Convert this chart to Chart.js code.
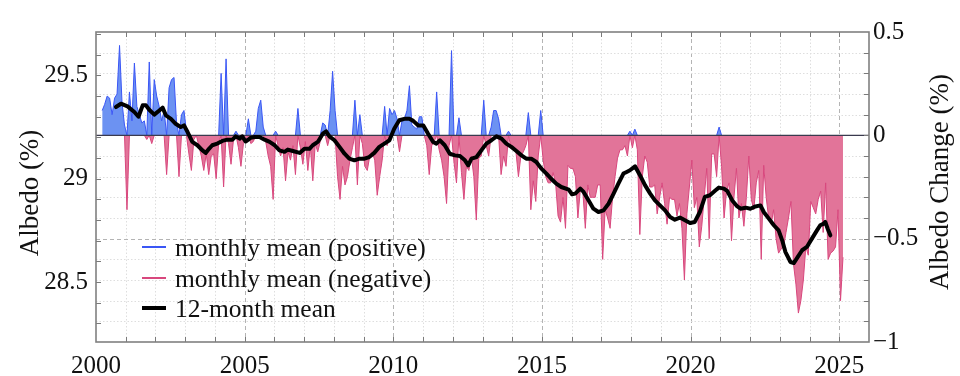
<!DOCTYPE html>
<html>
<head>
<meta charset="utf-8">
<script src="https://cdn.jsdelivr.net/npm/chart.js@4/dist/chart.umd.min.js"></script>
<style>
  html, body { margin: 0; padding: 0; background: #ffffff; }
  #wrap { width: 960px; height: 376px; position: relative; }
</style>
</head>
<body>
<div id="wrap"><canvas id="c" width="960" height="376"></canvas></div>
<script>
// ---------------- DATA ----------------
// Monthly albedo change (%) relative to the reference level, Mar 2000 .. Feb 2025
const firstMonthIndex = 2; // months since Jan 2000 (Mar 2000)
const monthlyChange = [
  // 2000 (Mar-Dec)
  0.12, 0.15, 0.19, 0.18, 0.10, 0.18, 0.20, 0.435, 0.16, 0.05,
  // 2001
  -0.36, 0.21, 0.07, 0.35, 0.14, 0.10, 0.06, 0.07, -0.02, 0.355, -0.04, 0.27,
  // 2002
  0.19, 0.14, 0.07, 0.12, -0.19, 0.23, 0.27, 0.28, 0.06, -0.20, 0.10, 0.12,
  // 2003
  0.02, -0.09, -0.17, -0.02, 0.00, -0.05, -0.10, -0.17, -0.09, -0.19, -0.10, -0.09,
  // 2004
  -0.21, -0.04, 0.30, -0.25, 0.37, -0.04, -0.14, -0.02, 0.02, -0.06, -0.15, -0.04,
  // 2005
  -0.02, 0.08, -0.04, -0.03, 0.02, 0.13, 0.17, 0.04, -0.03, -0.10, -0.15, -0.31,
  // 2006
  0.02, -0.05, -0.10, -0.06, -0.22, -0.08, -0.12, -0.05, -0.19, 0.13, -0.06, -0.14,
  // 2007
  -0.03, -0.17, -0.05, -0.22, -0.04, -0.08, -0.03, 0.06, 0.05, -0.05, 0.12, 0.31,
  // 2008
  0.12, -0.20, -0.31, -0.15, -0.24, -0.20, -0.12, -0.06, 0.17, -0.24, 0.10, -0.04,
  // 2009
  -0.15, -0.17, -0.10, -0.08, -0.12, -0.29, -0.20, -0.12, 0.14, -0.05, 0.13, 0.10,
  // 2010
  0.12, 0.08, -0.08, 0.07, 0.08, 0.12, 0.24, 0.05, 0.04, 0.03, 0.09, 0.09,
  // 2011
  0.00, -0.05, -0.19, -0.05, -0.03, 0.21, -0.07, -0.12, -0.20, -0.33, -0.05, 0.41,
  // 2012
  -0.13, -0.23, 0.085, -0.18, -0.31, -0.15, -0.17, -0.10, -0.20, -0.41, -0.11, -0.10,
  // 2013
  0.17, -0.05, -0.10, 0.04, 0.12, 0.12, 0.08, -0.19, -0.10, -0.15, 0.02, -0.06,
  // 2014
  -0.06, -0.08, -0.20, -0.10, -0.08, -0.05, 0.11, -0.36, -0.22, -0.32, -0.10, 0.12,
  // 2015
  -0.12, -0.20, -0.23, -0.23, -0.18, -0.23, -0.39, -0.42, -0.30, -0.45, -0.145, -0.16,
  // 2016
  -0.16, -0.20, -0.40, -0.26, -0.27, -0.45, -0.24, -0.30, -0.30, -0.30, -0.24, -0.24,
  // 2017
  -0.60, -0.36, -0.40, -0.45, -0.30, -0.20, -0.11, -0.07, -0.07, -0.05, -0.10, 0.02,
  // 2018
  -0.06, 0.03, -0.07, -0.48, -0.20, -0.10, -0.13, -0.25, -0.25, -0.24, -0.38, -0.30,
  // 2019
  -0.23, -0.33, -0.43, -0.30, -0.31, -0.31, -0.39, -0.33, -0.45, -0.70, -0.38, -0.25,
  // 2020
  -0.12, -0.35, -0.30, -0.54, -0.44, -0.30, -0.16, -0.50, -0.09, -0.09, -0.20, 0.04,
  // 2021
  -0.15, -0.40, -0.27, -0.23, -0.51, -0.30, -0.16, -0.40, -0.33, -0.44, -0.30, -0.10,
  // 2022
  -0.31, -0.36, -0.23, -0.17, -0.60, -0.145, -0.30, -0.40, -0.43, -0.36, -0.50, -0.57,
  // 2023
  -0.55, -0.54, -0.47, -0.40, -0.32, -0.62, -0.72, -0.86, -0.80, -0.70, -0.54, -0.58,
  // 2024
  -0.32, -0.35, -0.38, -0.31, -0.27, -0.47, -0.23, -0.60, -0.57, -0.56, -0.54, -0.36,
  // 2025 (Jan-Feb)
  -0.80, -0.59
];

// 12-month running mean (change, %)
const meanYears = [
  2000.67, 2000.84, 2001.06, 2001.29, 2001.43, 2001.57, 2001.68, 2001.79, 2001.96, 2002.13,
  2002.24, 2002.35, 2002.52, 2002.68, 2002.85, 2002.96, 2003.08, 2003.24, 2003.41, 2003.58,
  2003.69, 2003.80, 2003.91, 2004.08, 2004.25, 2004.42, 2004.59, 2004.70, 2004.83, 2004.92,
  2005.03, 2005.20, 2005.34, 2005.50, 2005.67, 2005.84, 2006.01, 2006.17, 2006.34, 2006.45,
  2006.62, 2006.85, 2007.01, 2007.18, 2007.29, 2007.46, 2007.63, 2007.74, 2007.85, 2008.02,
  2008.19, 2008.36, 2008.52, 2008.69, 2008.86, 2009.03, 2009.19, 2009.36, 2009.53, 2009.70,
  2009.87, 2010.03, 2010.20, 2010.37, 2010.54, 2010.67, 2010.84, 2011.01, 2011.17, 2011.34,
  2011.45, 2011.57, 2011.73, 2011.90, 2012.07, 2012.24, 2012.41, 2012.52, 2012.63, 2012.80,
  2012.96, 2013.13, 2013.30, 2013.47, 2013.64, 2013.80, 2013.97, 2014.14, 2014.31, 2014.47,
  2014.64, 2014.81, 2014.98, 2015.15, 2015.31, 2015.48, 2015.65, 2015.90, 2016.01, 2016.12,
  2016.29, 2016.40, 2016.57, 2016.73, 2016.90, 2017.07, 2017.24, 2017.41, 2017.57, 2017.74,
  2017.85, 2017.96, 2018.13, 2018.30, 2018.47, 2018.64, 2018.80, 2018.97, 2019.14, 2019.31,
  2019.47, 2019.64, 2019.81, 2019.98, 2020.14, 2020.31, 2020.48, 2020.65, 2020.84, 2020.95,
  2021.12, 2021.23, 2021.40, 2021.57, 2021.68, 2021.85, 2022.01, 2022.18, 2022.35, 2022.46,
  2022.63, 2022.80, 2022.96, 2023.08, 2023.19, 2023.36, 2023.47, 2023.60, 2023.75, 2023.91,
  2024.08, 2024.25, 2024.36, 2024.48, 2024.53, 2024.61, 2024.70
];
const meanValues = [
  0.137, 0.153, 0.140, 0.113, 0.090, 0.145, 0.145, 0.124, 0.100, 0.120,
  0.134, 0.097, 0.080, 0.056, 0.040, 0.048, 0.016, -0.032, -0.048, -0.073,
  -0.085, -0.065, -0.048, -0.040, -0.027, -0.021, -0.021, -0.005, -0.016, -0.005,
  -0.030, -0.012, -0.008, -0.008, -0.021, -0.032, -0.048, -0.073, -0.080, -0.069,
  -0.076, -0.085, -0.065, -0.065, -0.048, -0.032, 0.008, 0.019, -0.005, -0.024,
  -0.056, -0.089, -0.113, -0.121, -0.113, -0.113, -0.105, -0.085, -0.056, -0.040,
  -0.024, 0.032, 0.073, 0.080, 0.080, 0.070, 0.048, 0.048, 0.008, -0.032,
  -0.040, -0.024, -0.048, -0.089, -0.097, -0.100, -0.121, -0.145, -0.113, -0.105,
  -0.073, -0.040, -0.024, -0.005, -0.016, -0.040, -0.056, -0.076, -0.097, -0.113,
  -0.113, -0.129, -0.161, -0.185, -0.210, -0.234, -0.250, -0.263, -0.285, -0.282,
  -0.258, -0.274, -0.315, -0.355, -0.371, -0.363, -0.331, -0.282, -0.234, -0.185,
  -0.177, -0.169, -0.150, -0.194, -0.242, -0.282, -0.315, -0.339, -0.363, -0.395,
  -0.408, -0.398, -0.411, -0.424, -0.419, -0.371, -0.298, -0.290, -0.266, -0.253,
  -0.258, -0.269, -0.315, -0.344, -0.355, -0.350, -0.355, -0.344, -0.339, -0.371,
  -0.403, -0.435, -0.460, -0.508, -0.565, -0.613, -0.618, -0.589, -0.556, -0.540,
  -0.500, -0.460, -0.435, -0.427, -0.419, -0.452, -0.484
];

// Axis settings / labels
const baseAlbedo = 29.21;          // albedo (%) corresponding to zero change
const albedoTicks = [28.5, 29, 29.5];
const changeLabelTicks = [0.5, 0, -0.5, -1];
const yearLabels = [2000, 2005, 2010, 2015, 2020, 2025];
const seriesLabels = ['monthly mean (positive)', 'monthly mean (negative)', '12-month mean'];
const leftTitle = 'Albedo (%)';
const rightTitle = 'Albedo Change (%)';

// ---------------- BUILD ----------------
const FONT = "'Liberation Serif', 'Times New Roman', serif";
const BLUE_LINE = '#3a56f5';
const BLUE_FILL = 'rgba(108,146,242,1)';
const PINK_LINE = '#d8477d';
const PINK_FILL = 'rgba(226,116,153,1)';

const monthYear = i => 2000 + (firstMonthIndex + i + 0.5) / 12;
const posData = monthlyChange.map((v, i) => ({ x: monthYear(i), y: Math.max(v, 0) }));
const negData = monthlyChange.map((v, i) => ({ x: monthYear(i), y: Math.min(v, 0) }));
const meanData = meanYears.map((x, i) => ({ x, y: meanValues[i] }));

const hideZero = color => ctx =>
  (ctx.p0.parsed.y === 0 && ctx.p1.parsed.y === 0) ? 'rgba(0,0,0,0)' : color;

const fmtNum = v => {
  const r = Math.round(v * 10) / 10;
  return String(r).replace('-', '\u2212');
};

const gridPlugin = {
  id: 'gridPlugin',
  beforeDatasetsDraw(chart) {
    const { ctx, chartArea: a, scales } = chart;
    const xs = scales.x, ys = scales.y2;
    ctx.save();
    ctx.lineWidth = 1;
    for (let yr = 2001; yr <= 2025; yr++) {
      const px = Math.round(xs.getPixelForValue(yr)) + 0.5;
      const major = yr % 5 === 0;
      ctx.strokeStyle = major ? '#b4b4b4' : '#dedede';
      ctx.setLineDash(major ? [4, 3] : [1.5, 2]);
      ctx.beginPath(); ctx.moveTo(px, a.top); ctx.lineTo(px, a.bottom); ctx.stroke();
    }
    for (let k = -9; k <= 4; k++) {
      const v = k / 10;
      if (k === 0) continue;
      const py = Math.round(ys.getPixelForValue(v)) + 0.5;
      const major = k === -5;
      ctx.strokeStyle = major ? '#b4b4b4' : '#dedede';
      ctx.setLineDash(major ? [4, 3] : [1.5, 2]);
      ctx.beginPath(); ctx.moveTo(a.left, py); ctx.lineTo(a.right, py); ctx.stroke();
    }
    ctx.restore();
  },
  afterDatasetsDraw(chart) {
    const { ctx, chartArea: a, scales } = chart;
    const xs = scales.x, ys = scales.y2, yl = scales.y;
    ctx.save();
    ctx.strokeStyle = '#7a7a7a';
    ctx.lineWidth = 1;
    ctx.setLineDash([]);
    const L = 5;
    for (let yr = 2001; yr <= 2025; yr++) {
      const px = Math.round(xs.getPixelForValue(yr)) + 0.5;
      ctx.beginPath();
      ctx.moveTo(px, a.top); ctx.lineTo(px, a.top + L);
      ctx.moveTo(px, a.bottom); ctx.lineTo(px, a.bottom - L);
      ctx.stroke();
    }
    for (let k = -9; k <= 4; k++) {
      const py = Math.round(ys.getPixelForValue(k / 10)) + 0.5;
      ctx.beginPath(); ctx.moveTo(a.right, py); ctx.lineTo(a.right - L, py); ctx.stroke();
    }
    for (let k = 283; k <= 297; k++) {
      const py = Math.round(yl.getPixelForValue(k / 10)) + 0.5;
      if (py <= a.top + 1 || py >= a.bottom - 1) continue;
      ctx.beginPath(); ctx.moveTo(a.left, py); ctx.lineTo(a.left + L, py); ctx.stroke();
    }
    ctx.strokeStyle = '#808080';
    ctx.lineWidth = 1.6;
    ctx.strokeRect(a.left, a.top, a.right - a.left, a.bottom - a.top);
    ctx.restore();
  },
  afterDraw(chart) {
    const { ctx } = chart;
    ctx.save();
    const ds = chart.data.datasets;
    const rows = [
      { label: ds[0].label, color: BLUE_LINE, w: 2, y: 247 },
      { label: ds[1].label, color: PINK_LINE, w: 2, y: 278 },
      { label: ds[2].label, color: '#000000', w: 4, y: 308 }
    ];
    ctx.font = `25.5px ${FONT}`;
    ctx.textBaseline = 'alphabetic';
    ctx.textAlign = 'left';
    rows.forEach(r => {
      ctx.strokeStyle = r.color; ctx.lineWidth = r.w;
      ctx.beginPath(); ctx.moveTo(142, r.y); ctx.lineTo(166, r.y); ctx.stroke();
      ctx.fillStyle = '#111';
      ctx.fillText(r.label, 175, r.y + 9);
    });
    ctx.font = `27px ${FONT}`;
    ctx.textAlign = 'center';
    ctx.textBaseline = 'middle';
    ctx.fillStyle = '#111';
    ctx.save(); ctx.translate(31, 193); ctx.rotate(-Math.PI / 2); ctx.fillText(leftTitle, 0, 0); ctx.restore();
    ctx.save(); ctx.translate(941, 182); ctx.rotate(-Math.PI / 2); ctx.fillText(rightTitle, 0, 0); ctx.restore();
    ctx.restore();
  }
};

const tickFont = { family: FONT, size: 25 };

new Chart(document.getElementById('c'), {
  type: 'line',
  data: {
    datasets: [
      { label: seriesLabels[0], data: posData, yAxisID: 'y2', borderColor: BLUE_LINE,
        backgroundColor: BLUE_FILL, borderWidth: 1, fill: 'origin', pointRadius: 0, tension: 0,
        segment: { borderColor: hideZero(BLUE_LINE) }, order: 3 },
      { label: seriesLabels[1], data: negData, yAxisID: 'y2', borderColor: PINK_LINE,
        backgroundColor: PINK_FILL, borderWidth: 1, fill: 'origin', pointRadius: 0, tension: 0,
        segment: { borderColor: hideZero(PINK_LINE) }, order: 2 },
      { label: seriesLabels[2], data: meanData, yAxisID: 'y2', borderColor: '#000000',
        borderWidth: 4, fill: false, pointRadius: 0, tension: 0, borderJoinStyle: 'round',
        borderCapStyle: 'round', order: 0 },
      { label: 'zero', data: [{ x: 2000, y: 0 }, { x: 2026, y: 0 }], yAxisID: 'y2',
        borderColor: '#3a3a4e', borderWidth: 1.4, fill: false, pointRadius: 0, order: 1 }
    ]
  },
  options: {
    responsive: false,
    animation: false,
    devicePixelRatio: 1,
    layout: { padding: { top: 32, left: 0, right: 0, bottom: 0 } },
    plugins: { legend: { display: false }, tooltip: { enabled: false } },
    scales: {
      x: {
        type: 'linear', min: 2000, max: 2026,
        grid: { display: false, drawTicks: false },
        border: { display: false },
        ticks: {
          stepSize: 1, autoSkip: false, maxRotation: 0, padding: 9,
          font: tickFont, color: '#111',
          callback: v => yearLabels.includes(v) ? String(v) : ''
        },
        afterFit: s => { s.height = 34; }
      },
      y: {
        position: 'left', min: baseAlbedo - 1, max: baseAlbedo + 0.5,
        grid: { display: false, drawTicks: false },
        border: { display: false },
        afterBuildTicks: s => { s.ticks = albedoTicks.map(v => ({ value: v })); },
        ticks: { padding: 8, font: tickFont, color: '#111', callback: v => String(v) },
        afterFit: s => { s.width = 96; }
      },
      y2: {
        position: 'right', min: -1, max: 0.5,
        grid: { display: false, drawTicks: false },
        border: { display: false },
        afterBuildTicks: s => { s.ticks = changeLabelTicks.map(v => ({ value: v })); },
        ticks: { padding: 4, font: tickFont, color: '#111', callback: v => fmtNum(v) },
        afterFit: s => { s.width = 91; }
      }
    }
  },
  plugins: [gridPlugin]
});
</script>
</body>
</html>
